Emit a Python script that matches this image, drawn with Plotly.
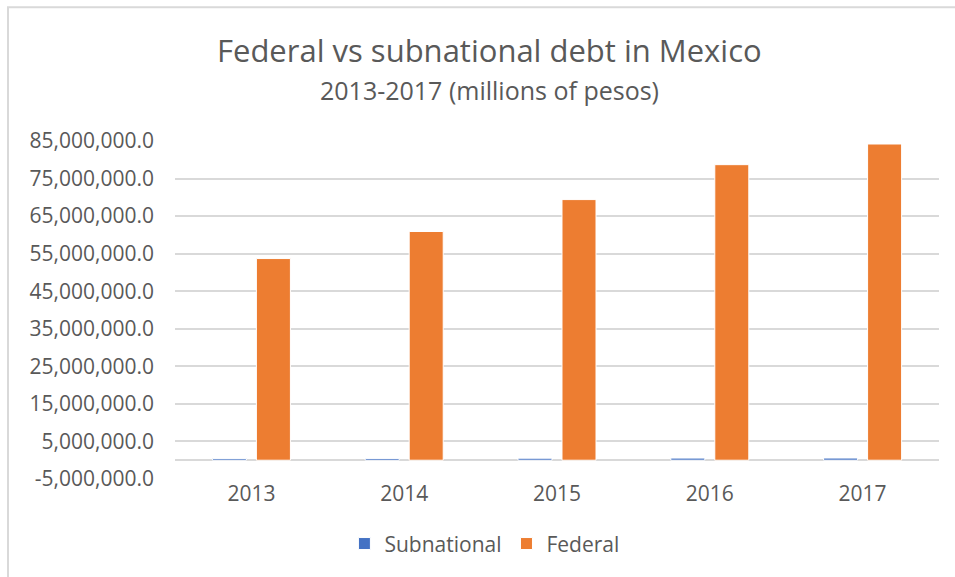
import plotly.graph_objects as go

# Debt stock by year, millions of pesos
years = ["2013", "2014", "2015", "2016", "2017"]
subnational = [434761, 482807, 536269, 568591, 581000]
federal = [53700000, 60900000, 69400000, 78700000, 84200000]

tick_values = [-5e6, 5e6, 15e6, 25e6, 35e6, 45e6, 55e6, 65e6, 75e6, 85e6]
tick_labels = [f"{v:,.1f}" for v in tick_values]

TEXT = "#595959"
GRID = "#d9d9d9"
FONT = "Open Sans"

fig = go.Figure()
fig.add_trace(go.Bar(
    x=years, y=subnational, name="Subnational",
    marker=dict(color="#4472C4", line=dict(color="white", width=1)),
))
fig.add_trace(go.Bar(
    x=years, y=federal, name="Federal",
    marker=dict(color="#ED7D31", line=dict(color="white", width=1)),
))

fig.update_layout(
    width=955, height=577,
    margin=dict(l=175, r=16, t=141, b=98),
    paper_bgcolor="white", plot_bgcolor="white",
    barmode="group", bargap=0.424, bargroupgap=0.227,
    font=dict(family=FONT, color=TEXT, size=21),
    showlegend=True,
    legend=dict(orientation="h", x=0.405, xanchor="center", y=-0.192, yanchor="middle",
                font=dict(size=21, color=TEXT), itemwidth=30, traceorder="normal"),
    xaxis=dict(showgrid=False, showline=False, ticks="", tickfont=dict(size=21, color=TEXT)),
    yaxis=dict(range=[-5e6, 85e6], tickvals=tick_values, ticktext=tick_labels,
               showgrid=True, gridcolor=GRID, gridwidth=1.5,
               zeroline=True, zerolinecolor=GRID, zerolinewidth=1.5,
               showline=False, ticks="", ticklabelstandoff=20,
               tickfont=dict(size=21, color=TEXT)),
    annotations=[
        dict(text="Federal vs subnational debt in Mexico", x=0.412, y=1.269,
             xref="paper", yref="paper", xanchor="center", yanchor="middle",
             showarrow=False, font=dict(size=31, color=TEXT, family=FONT)),
        dict(text="2013-2017 (millions of pesos)", x=0.412, y=1.15,
             xref="paper", yref="paper", xanchor="center", yanchor="middle",
             showarrow=False, font=dict(size=25, color=TEXT, family=FONT)),
    ],
    shapes=[
        dict(type="rect", xref="paper", yref="paper", x0=-0.2186, x1=1.2, y0=-0.6, y1=1.396,
             line=dict(color=GRID, width=2), fillcolor="rgba(0,0,0,0)", layer="below"),
    ],
)

fig.write_html("out.html")
